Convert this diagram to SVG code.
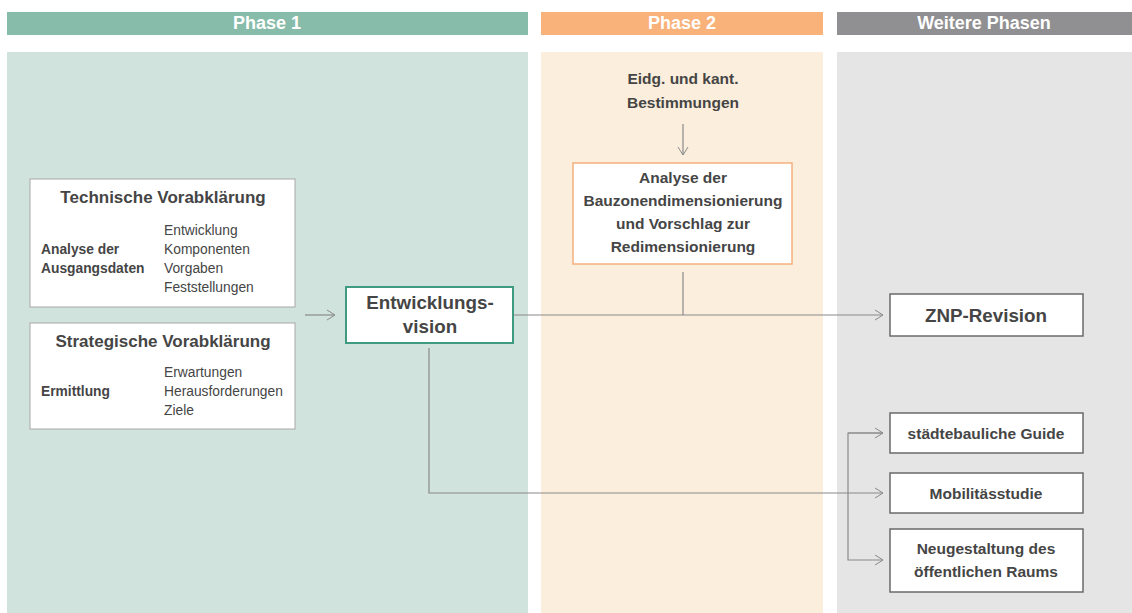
<svg xmlns="http://www.w3.org/2000/svg" width="1132" height="613" viewBox="0 0 1132 613">
<defs>
<marker id="ah" markerWidth="10" markerHeight="12" refX="9" refY="6" orient="auto" markerUnits="userSpaceOnUse">
<path d="M1,1 L9,6 L1,11" fill="none" stroke="#8a8a8a" stroke-width="1"/>
</marker>
<style>
text{font-family:"Liberation Sans",Arial,sans-serif;fill:#454545}
.hd{font-size:18px;font-weight:bold;fill:#fff;text-anchor:middle}
.b{font-weight:bold}
.c{text-anchor:middle}
.t{font-size:17px;font-weight:bold;text-anchor:middle}
.s{font-size:13.8px}
.m{font-size:15.5px}
.l{font-size:18.8px}
.n{fill:#fff;stroke:#6a6a6a;stroke-width:1.5}
.con{fill:none;stroke:#8a8a8a;stroke-width:1.2}
</style>
</defs>
<rect width="1132" height="613" fill="#fff"/>
<g id="phase1">
<rect x="7" y="12" width="521" height="23" fill="#87bcaa"/>
<rect x="7" y="52" width="521" height="561" fill="#d0e3dc"/>
<text class="hd" x="267" y="29">Phase 1</text>
</g>
<g id="phase2">
<rect x="541" y="12" width="282" height="23" fill="#f9b27a"/>
<rect x="541" y="52" width="282" height="561" fill="#fbeedc"/>
<text class="hd" x="682" y="29">Phase 2</text>
</g>
<g id="phase3">
<rect x="837" y="12" width="295" height="23" fill="#909092"/>
<rect x="837" y="52" width="295" height="561" fill="#e5e5e6"/>
<text class="hd" x="984" y="29">Weitere Phasen</text>
</g>
<g id="connectors">
<line class="con" x1="305" y1="315" x2="335" y2="315" marker-end="url(#ah)"/>
<line class="con" x1="683" y1="124" x2="683" y2="155" marker-end="url(#ah)"/>
<line class="con" x1="683" y1="272" x2="683" y2="315"/>
<line class="con" x1="514" y1="315" x2="883" y2="315" marker-end="url(#ah)"/>
<polyline class="con" points="429,348 429,493 883,493" marker-end="url(#ah)"/>
<polyline class="con" points="883,433 848,433 848,560 883,560" marker-end="url(#ah)"/>
<line class="con" x1="848" y1="433" x2="883" y2="433" marker-end="url(#ah)"/>
</g>
<g id="technische">
<rect x="30" y="179" width="265" height="128" fill="#fff" stroke="#a8a8a8" stroke-width="1"/>
<text class="t" x="163" y="203">Technische Vorabklärung</text>
<text class="s b" x="41" y="254">Analyse der</text>
<text class="s b" x="41" y="273">Ausgangsdaten</text>
<text class="s" x="164" y="235">Entwicklung</text>
<text class="s" x="164" y="254">Komponenten</text>
<text class="s" x="164" y="273">Vorgaben</text>
<text class="s" x="164" y="292">Feststellungen</text>
</g>
<g id="strategische">
<rect x="30" y="323" width="265" height="106" fill="#fff" stroke="#a8a8a8" stroke-width="1"/>
<text class="t" x="163" y="347">Strategische Vorabklärung</text>
<text class="s b" x="41" y="396">Ermittlung</text>
<text class="s" x="164" y="377">Erwartungen</text>
<text class="s" x="164" y="396">Herausforderungen</text>
<text class="s" x="164" y="415">Ziele</text>
</g>
<g id="vision">
<rect x="346" y="287" width="167" height="56" fill="#fff" stroke="#3f9b80" stroke-width="2"/>
<text class="c b l" x="430" y="309">Entwicklungs-</text>
<text class="c b l" x="430" y="333">vision</text>
</g>
<g id="bestimmungen">
<text class="c b m" x="683" y="84">Eidg. und kant.</text>
<text class="c b m" x="683" y="108">Bestimmungen</text>
</g>
<g id="analyse">
<rect x="573" y="163" width="219" height="101" fill="#fff" stroke="#f4b07c" stroke-width="1.5"/>
<text class="c b m" x="683" y="183">Analyse der</text>
<text class="c b m" x="683" y="206">Bauzonendimensionierung</text>
<text class="c b m" x="683" y="229">und Vorschlag zur</text>
<text class="c b m" x="683" y="252">Redimensionierung</text>
</g>
<g id="znp">
<rect class="n" x="890" y="294" width="193" height="42"/>
<text class="c b l" x="986" y="322">ZNP-Revision</text>
</g>
<g id="guide">
<rect class="n" x="890" y="413" width="193" height="40"/>
<text class="c b m" x="986" y="439">städtebauliche Guide</text>
</g>
<g id="mobil">
<rect class="n" x="890" y="473" width="193" height="40"/>
<text class="c b m" x="986" y="499">Mobilitässtudie</text>
</g>
<g id="raum">
<rect class="n" x="890" y="529" width="193" height="63"/>
<text class="c b m" x="986" y="554">Neugestaltung des</text>
<text class="c b m" x="986" y="577">öffentlichen Raums</text>
</g>
</svg>
